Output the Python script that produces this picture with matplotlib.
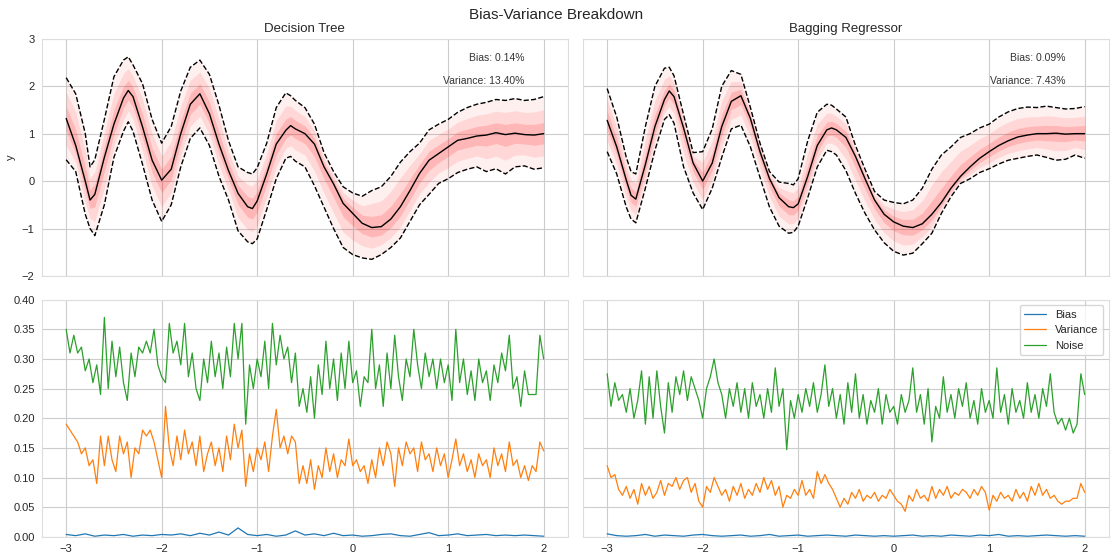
import numpy as np
import matplotlib
matplotlib.use('Agg')
import matplotlib.pyplot as plt
import seaborn as sns

# 模型名称与标注文字
models = ['Decision Tree', 'Bagging Regressor']
bias_text = ['Bias: 0.14%', 'Bias: 0.09%']
var_text = ['Variance: 13.40%', 'Variance: 7.43%']

# 上排：均值曲线及上下虚线边界
curve_x = [-3.0, -2.9, -2.8, -2.75, -2.7, -2.6, -2.5, -2.4, -2.35, -2.3, -2.2, -2.1, -2.0, -1.9,
           -1.8, -1.7, -1.6, -1.5, -1.4, -1.3, -1.2, -1.1, -1.05, -1.0, -0.9, -0.8, -0.7, -0.65,
           -0.6, -0.5, -0.4, -0.3, -0.2, -0.1, 0.0, 0.1, 0.2, 0.3, 0.4, 0.5, 0.6, 0.7, 0.8, 0.9,
           1.0, 1.1, 1.2, 1.3, 1.4, 1.5, 1.6, 1.7, 1.8, 1.9, 2.0]

tree_mean = [1.32, 0.75, 0.00, -0.40, -0.28, 0.50, 1.20, 1.75, 1.91, 1.78, 1.14, 0.44, 0.02, 0.25,
             1.00, 1.62, 1.84, 1.42, 0.78, 0.22, -0.26, -0.54, -0.58, -0.42, 0.15, 0.78, 1.07, 1.17,
             1.10, 1.00, 0.78, 0.30, -0.06, -0.47, -0.68, -0.89, -0.98, -0.96, -0.80, -0.54, -0.20,
             0.16, 0.44, 0.58, 0.72, 0.86, 0.90, 0.95, 0.97, 1.02, 0.98, 1.01, 0.98, 0.97, 1.00]
tree_upper = [2.18, 1.84, 1.00, 0.30, 0.45, 1.30, 2.20, 2.55, 2.62, 2.45, 2.05, 1.30, 0.80, 1.15,
              1.90, 2.40, 2.55, 2.25, 1.60, 0.85, 0.30, 0.18, 0.15, 0.28, 0.80, 1.55, 1.86, 1.80,
              1.70, 1.55, 1.20, 0.60, 0.20, -0.12, -0.25, -0.32, -0.20, -0.12, 0.10, 0.40, 0.62,
              0.80, 1.08, 1.20, 1.30, 1.45, 1.55, 1.62, 1.66, 1.72, 1.70, 1.74, 1.70, 1.72, 1.78]
tree_lower = [0.45, 0.20, -0.70, -1.00, -1.15, -0.50, 0.50, 1.05, 1.25, 1.05, 0.35, -0.40, -0.85,
              -0.50, 0.30, 0.90, 1.12, 0.75, 0.10, -0.40, -1.05, -1.28, -1.32, -1.22, -0.60, 0.05,
              0.48, 0.52, 0.42, 0.30, -0.10, -0.55, -1.00, -1.40, -1.55, -1.62, -1.65, -1.55, -1.40,
              -1.20, -0.85, -0.50, -0.28, -0.05, 0.05, 0.18, 0.25, 0.30, 0.20, 0.26, 0.15, 0.30,
              0.32, 0.25, 0.28]

bag_mean = [1.28, 0.72, 0.02, -0.30, -0.38, 0.35, 1.15, 1.72, 1.90, 1.78, 1.12, 0.38, 0.00, 0.38,
            1.15, 1.68, 1.80, 1.32, 0.62, 0.05, -0.35, -0.54, -0.56, -0.48, 0.10, 0.75, 1.08, 1.12,
            1.08, 0.92, 0.52, 0.05, -0.40, -0.70, -0.86, -0.95, -0.98, -0.90, -0.70, -0.45, -0.15,
            0.10, 0.30, 0.48, 0.62, 0.75, 0.85, 0.93, 0.97, 1.00, 1.00, 1.01, 0.99, 1.00, 1.00]
bag_upper = [1.95, 1.35, 0.50, 0.20, 0.15, 1.15, 2.00, 2.38, 2.40, 2.22, 1.40, 0.60, 0.62, 1.10,
             2.00, 2.33, 2.25, 1.55, 0.80, 0.20, -0.02, -0.05, -0.08, 0.05, 0.85, 1.45, 1.62, 1.60,
             1.52, 1.35, 0.75, 0.25, -0.22, -0.40, -0.45, -0.48, -0.40, -0.15, 0.25, 0.55, 0.72,
             0.92, 1.00, 1.12, 1.20, 1.35, 1.46, 1.53, 1.56, 1.55, 1.58, 1.55, 1.52, 1.53, 1.57]
bag_lower = [0.62, 0.15, -0.55, -0.80, -0.88, -0.15, 0.65, 1.30, 1.40, 1.22, 0.30, -0.25, -0.60,
             -0.15, 0.50, 1.10, 1.18, 0.72, 0.08, -0.55, -0.95, -1.10, -1.08, -0.95, -0.35, 0.30,
             0.65, 0.62, 0.55, 0.22, -0.26, -0.68, -1.03, -1.30, -1.48, -1.56, -1.52, -1.32, -1.10,
             -0.68, -0.33, -0.05, 0.05, 0.18, 0.26, 0.36, 0.44, 0.48, 0.52, 0.55, 0.50, 0.44, 0.46,
             0.55, 0.48]

# 下排：偏差、方差、噪声（x 从 -3 到 2 等间隔）
tree_noise = [0.35, 0.31, 0.34, 0.31, 0.32, 0.28, 0.30, 0.26, 0.29, 0.24, 0.37, 0.25, 0.33, 0.27,
              0.32, 0.26, 0.23, 0.31, 0.27, 0.32, 0.31, 0.33, 0.31, 0.35, 0.29, 0.27, 0.26, 0.36,
              0.31, 0.33, 0.29, 0.36, 0.27, 0.31, 0.25, 0.23, 0.30, 0.26, 0.33, 0.27, 0.31, 0.25,
              0.32, 0.27, 0.36, 0.30, 0.36, 0.19, 0.29, 0.25, 0.30, 0.27, 0.33, 0.25, 0.36, 0.29,
              0.34, 0.30, 0.32, 0.26, 0.31, 0.22, 0.25, 0.21, 0.27, 0.20, 0.29, 0.24, 0.33, 0.25,
              0.30, 0.23, 0.31, 0.25, 0.33, 0.26, 0.28, 0.22, 0.27, 0.26, 0.35, 0.25, 0.29, 0.22,
              0.31, 0.25, 0.34, 0.27, 0.23, 0.30, 0.27, 0.35, 0.29, 0.25, 0.31, 0.27, 0.30, 0.25,
              0.30, 0.26, 0.29, 0.23, 0.35, 0.26, 0.30, 0.24, 0.28, 0.23, 0.30, 0.26, 0.28, 0.23,
              0.29, 0.26, 0.31, 0.28, 0.34, 0.25, 0.27, 0.22, 0.28, 0.24, 0.24, 0.24, 0.34, 0.30]
tree_var = [0.19, 0.18, 0.17, 0.16, 0.14, 0.15, 0.12, 0.13, 0.09, 0.17, 0.12, 0.17, 0.13, 0.11,
            0.17, 0.14, 0.16, 0.10, 0.15, 0.14, 0.18, 0.17, 0.18, 0.16, 0.13, 0.10, 0.22, 0.15,
            0.12, 0.17, 0.13, 0.18, 0.14, 0.16, 0.12, 0.17, 0.11, 0.14, 0.16, 0.12, 0.15, 0.11,
            0.17, 0.13, 0.19, 0.15, 0.18, 0.085, 0.14, 0.11, 0.15, 0.13, 0.16, 0.11, 0.17, 0.215,
            0.15, 0.17, 0.14, 0.17, 0.16, 0.09, 0.12, 0.09, 0.13, 0.08, 0.12, 0.10, 0.15, 0.11,
            0.14, 0.10, 0.13, 0.12, 0.165, 0.12, 0.13, 0.11, 0.12, 0.09, 0.13, 0.10, 0.15, 0.12,
            0.16, 0.14, 0.085, 0.15, 0.12, 0.16, 0.14, 0.15, 0.11, 0.16, 0.13, 0.14, 0.11, 0.15,
            0.12, 0.14, 0.10, 0.13, 0.165, 0.12, 0.14, 0.11, 0.13, 0.10, 0.14, 0.12, 0.13, 0.10,
            0.15, 0.12, 0.14, 0.11, 0.16, 0.12, 0.13, 0.10, 0.12, 0.095, 0.12, 0.11, 0.16, 0.145]
tree_bias = [0.004, 0.002, 0.005, 0.001, 0.003, 0.002, 0.004, 0.001, 0.003, 0.002,
             0.004, 0.003, 0.005, 0.002, 0.006, 0.003, 0.008, 0.003, 0.015, 0.004,
             0.002, 0.004, 0.001, 0.003, 0.010, 0.003, 0.005, 0.002, 0.006, 0.002,
             0.003, 0.001, 0.002, 0.004, 0.005, 0.002, 0.001, 0.004, 0.007, 0.002,
             0.003, 0.005, 0.002, 0.003, 0.004, 0.002, 0.003, 0.002, 0.003, 0.002, 0.001]

bag_noise = [0.275, 0.22, 0.26, 0.23, 0.24, 0.21, 0.25, 0.20, 0.23, 0.28, 0.19, 0.27, 0.20, 0.28,
             0.22, 0.175, 0.26, 0.21, 0.27, 0.24, 0.28, 0.23, 0.27, 0.25, 0.23, 0.20, 0.25, 0.27,
             0.30, 0.26, 0.24, 0.20, 0.25, 0.22, 0.26, 0.21, 0.25, 0.20, 0.26, 0.22, 0.24, 0.20,
             0.25, 0.21, 0.285, 0.22, 0.25, 0.147, 0.23, 0.20, 0.24, 0.21, 0.25, 0.22, 0.26, 0.21,
             0.24, 0.29, 0.22, 0.25, 0.20, 0.24, 0.19, 0.26, 0.21, 0.275, 0.20, 0.24, 0.19, 0.23,
             0.21, 0.25, 0.19, 0.24, 0.21, 0.22, 0.19, 0.24, 0.21, 0.23, 0.285, 0.21, 0.24, 0.19,
             0.25, 0.16, 0.22, 0.20, 0.27, 0.21, 0.24, 0.20, 0.25, 0.22, 0.26, 0.20, 0.23, 0.19,
             0.25, 0.21, 0.23, 0.20, 0.285, 0.21, 0.24, 0.19, 0.25, 0.21, 0.23, 0.20, 0.26, 0.21,
             0.24, 0.20, 0.25, 0.22, 0.275, 0.21, 0.19, 0.20, 0.18, 0.20, 0.175, 0.19, 0.275, 0.24]
bag_var = [0.12, 0.10, 0.105, 0.08, 0.07, 0.085, 0.065, 0.08, 0.055, 0.09, 0.07, 0.085, 0.065,
           0.075, 0.095, 0.07, 0.09, 0.085, 0.10, 0.08, 0.095, 0.10, 0.075, 0.09, 0.06, 0.05, 0.085,
           0.075, 0.10, 0.085, 0.07, 0.08, 0.06, 0.085, 0.07, 0.09, 0.065, 0.08, 0.07, 0.09, 0.075,
           0.10, 0.08, 0.095, 0.07, 0.085, 0.05, 0.07, 0.065, 0.08, 0.07, 0.095, 0.07, 0.08, 0.065,
           0.11, 0.09, 0.105, 0.09, 0.08, 0.065, 0.05, 0.065, 0.055, 0.075, 0.065, 0.08, 0.06,
           0.07, 0.065, 0.075, 0.06, 0.07, 0.065, 0.08, 0.07, 0.06, 0.055, 0.043, 0.07, 0.06, 0.08,
           0.065, 0.07, 0.06, 0.085, 0.065, 0.08, 0.07, 0.085, 0.065, 0.075, 0.07, 0.08, 0.075,
           0.065, 0.08, 0.07, 0.085, 0.075, 0.045, 0.07, 0.06, 0.075, 0.065, 0.07, 0.06, 0.08,
           0.065, 0.075, 0.06, 0.085, 0.07, 0.09, 0.07, 0.08, 0.065, 0.07, 0.06, 0.055, 0.06, 0.06,
           0.065, 0.065, 0.09, 0.075]
bag_bias = [0.005, 0.002, 0.001, 0.002, 0.004, 0.001, 0.003, 0.002, 0.001, 0.003,
            0.004, 0.002, 0.001, 0.002, 0.003, 0.001, 0.002, 0.004, 0.001, 0.002,
            0.003, 0.001, 0.002, 0.003, 0.002, 0.001, 0.003, 0.002, 0.001, 0.002,
            0.001, 0.002, 0.003, 0.001, 0.002, 0.001, 0.003, 0.002, 0.001, 0.003,
            0.002, 0.004, 0.001, 0.002, 0.001, 0.002, 0.003, 0.002, 0.001, 0.002, 0.001]

sns.set_style('whitegrid')
plt.rcParams['font.family'] = ['Liberation Sans', 'DejaVu Sans']

fig, axes = plt.subplots(2, 2, figsize=(11.13, 5.54), dpi=100, sharex=True, sharey='row')
fig.subplots_adjust(left=0.038, right=0.996, top=0.93, bottom=0.031, wspace=0.03, hspace=0.10)

top_data = [(tree_mean, tree_upper, tree_lower), (bag_mean, bag_upper, bag_lower)]
bottom_data = [(tree_bias, tree_var, tree_noise), (bag_bias, bag_var, bag_noise)]
cx = np.array(curve_x)

for j in range(2):
    ax = axes[0, j]
    mean, upper, lower = [np.array(a) for a in top_data[j]]
    # 散点云用分层半透明填充代替
    ax.fill_between(cx, lower, upper, color='red', alpha=0.06, lw=0)
    ax.fill_between(cx, mean - 0.65 * (mean - lower), mean + 0.65 * (upper - mean),
                    color='red', alpha=0.10, lw=0)
    ax.fill_between(cx, mean - 0.3 * (mean - lower), mean + 0.3 * (upper - mean),
                    color='red', alpha=0.15, lw=0)
    ax.plot(cx, mean, color='black', lw=1.0)
    ax.plot(cx, upper, color='black', lw=1.0, ls='--')
    ax.plot(cx, lower, color='black', lw=1.0, ls='--')
    ax.set_title(models[j], fontsize=9.5, pad=5)
    ax.text(1.8, 2.6, bias_text[j], ha='right', va='center', fontsize=7.5, color='#333333')
    ax.text(1.8, 2.1, var_text[j], ha='right', va='center', fontsize=7.5, color='#333333')
    ax.set_ylim(-2, 3)

    ax = axes[1, j]
    bias, var, noise = bottom_data[j]
    ax.plot(np.linspace(-3, 2, len(bias)), bias, color='C0', lw=0.9, label='Bias')
    ax.plot(np.linspace(-3, 2, len(var)), var, color='C1', lw=0.9, label='Variance')
    ax.plot(np.linspace(-3, 2, len(noise)), noise, color='C2', lw=0.9, label='Noise')
    ax.set_ylim(0, 0.4)

axes[0, 0].set_ylabel('y', fontsize=8)
axes[1, 1].legend(loc='upper right', fontsize=8, frameon=True)
axes[1, 0].set_xticks([-3, -2, -1, 0, 1, 2])
axes[1, 0].set_xlim(-3.25, 2.25)

for ax in axes.flat:
    ax.tick_params(labelsize=8, pad=2)
    for s in ax.spines.values():
        s.set_color('#dddddd')

fig.suptitle('Bias-Variance Breakdown', fontsize=11, y=0.985)
fig.savefig('out.png', dpi=100)
